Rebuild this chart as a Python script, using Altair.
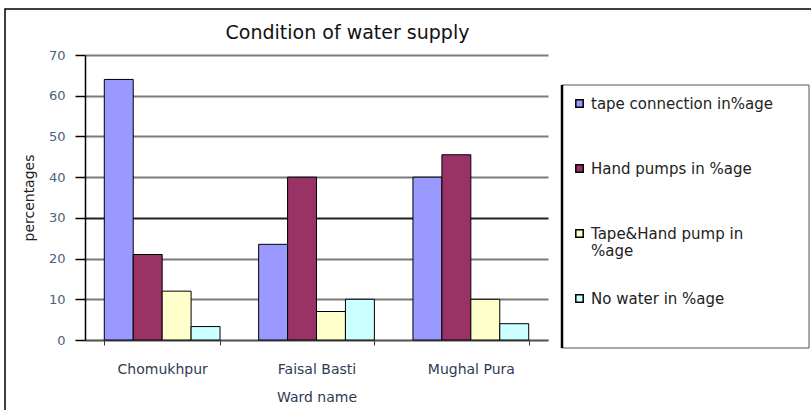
import altair as alt
import pandas as pd

# Ward names and the share of households (%) by source of water
wards = ["Chomukhpur", "Faisal Basti", "Mughal Pura"]
series = [
    "tape connection in%age",
    "Hand pumps in %age",
    "Tape&Hand pump in %age",
    "No water in %age",
]
tape_connection = [64, 23.5, 40]
hand_pumps = [21, 40, 45.5]
tape_and_hand = [12, 7, 10]
no_water = [3.3, 10, 4]

colors = ["#9999FF", "#993366", "#FFFFCC", "#CCFFFF"]
y_ticks = [0, 10, 20, 30, 40, 50, 60, 70]

rows = []
for name, values in zip(series, [tape_connection, hand_pumps, tape_and_hand, no_water]):
    for ward, v in zip(wards, values):
        rows.append({"ward": ward, "source": name, "pct": v})
df = pd.DataFrame(rows)

FONT = "DejaVu Sans"

bars = alt.Chart(df).mark_bar(stroke="black", strokeWidth=1).encode(
    x=alt.X(
        "ward:N",
        sort=wards,
        scale=alt.Scale(paddingInner=0.25, paddingOuter=0.125),
        axis=alt.Axis(
            title="Ward name",
            labelAngle=0,
            labelFont=FONT,
            labelFontSize=14,
            labelColor="#2d3b55",
            labelPadding=17,
            titleFont=FONT,
            titleFontSize=14,
            titleFontWeight="normal",
            titleColor="#2d3b55",
            titlePadding=14,
            domainColor="#555555",
            domainWidth=1.5,
            tickBand="extent",
            tickColor="#333333",
            tickSize=5,
        ),
    ),
    xOffset=alt.XOffset("source:N", sort=series, scale=alt.Scale(domain=series)),
    y=alt.Y(
        "pct:Q",
        scale=alt.Scale(domain=[0, 70], nice=False),
        axis=alt.Axis(
            values=y_ticks,
            title="percentages",
            labelFont=FONT,
            labelFontSize=13,
            labelColor="#4a6080",
            labelPadding=10,
            titleFont=FONT,
            titleFontSize=14,
            titleFontWeight="normal",
            titleColor="#222222",
            titlePadding=12,
            domainColor="black",
            domainWidth=1.5,
            tickColor="black",
            tickSize=10,
            tickWidth=1.5,
            gridColor=alt.condition("datum.value == 30", alt.value("#222222"), alt.value("#7a7a7a")),
            gridWidth=1.8,
        ),
    ),
    color=alt.Color(
        "source:N",
        sort=series,
        scale=alt.Scale(domain=series, range=colors),
        legend=alt.Legend(
            title=None,
            orient="none",
            legendX=487,
            legendY=41,
            symbolType="square",
            symbolSize=55,
            symbolStrokeColor="black",
            symbolStrokeWidth=1.5,
            labelFont=FONT,
            labelFontSize=15,
            labelColor="#222222",
            labelLimit=300,
            gridAlign="all",
            rowPadding=32,
            labelExpr="datum.label == 'Tape&Hand pump in %age' ? ['Tape&Hand pump in', '%age'] : datum.label",
        ),
    ),
)

frame_data = alt.Data(values=[{"f": 0}])

# Outer border around the whole figure
outer = alt.Chart(frame_data).mark_rect(
    fillOpacity=0, stroke="black", strokeWidth=1.5
).encode(
    x=alt.value(-80), x2=alt.value(740), y=alt.value(-46), y2=alt.value(370)
)

# Box around the legend
legend_box = alt.Chart(frame_data).mark_rect(
    fillOpacity=0, stroke="#555555", strokeWidth=1
).encode(
    x=alt.value(477), x2=alt.value(724), y=alt.value(30), y2=alt.value(293)
)
legend_edge = alt.Chart(frame_data).mark_rule(color="black", strokeWidth=2.5).encode(
    x=alt.value(477), y=alt.value(30), y2=alt.value(293)
)

chart = alt.layer(outer, bars, legend_box, legend_edge).properties(
    width=463,
    height=285,
    autosize=alt.AutoSizeParams(type="none"),
    padding={"left": 85, "top": 55, "right": 263, "bottom": 70},
    title=alt.TitleParams(
        "Condition of water supply",
        font=FONT,
        fontSize=19,
        fontWeight="normal",
        color="#111111",
        anchor="middle",
        dx=31,
        dy=49,
        offset=14,
    ),
    background="white",
).configure_view(strokeWidth=0)

chart.save("out.html", embed_options={"renderer": "svg", "actions": False})
